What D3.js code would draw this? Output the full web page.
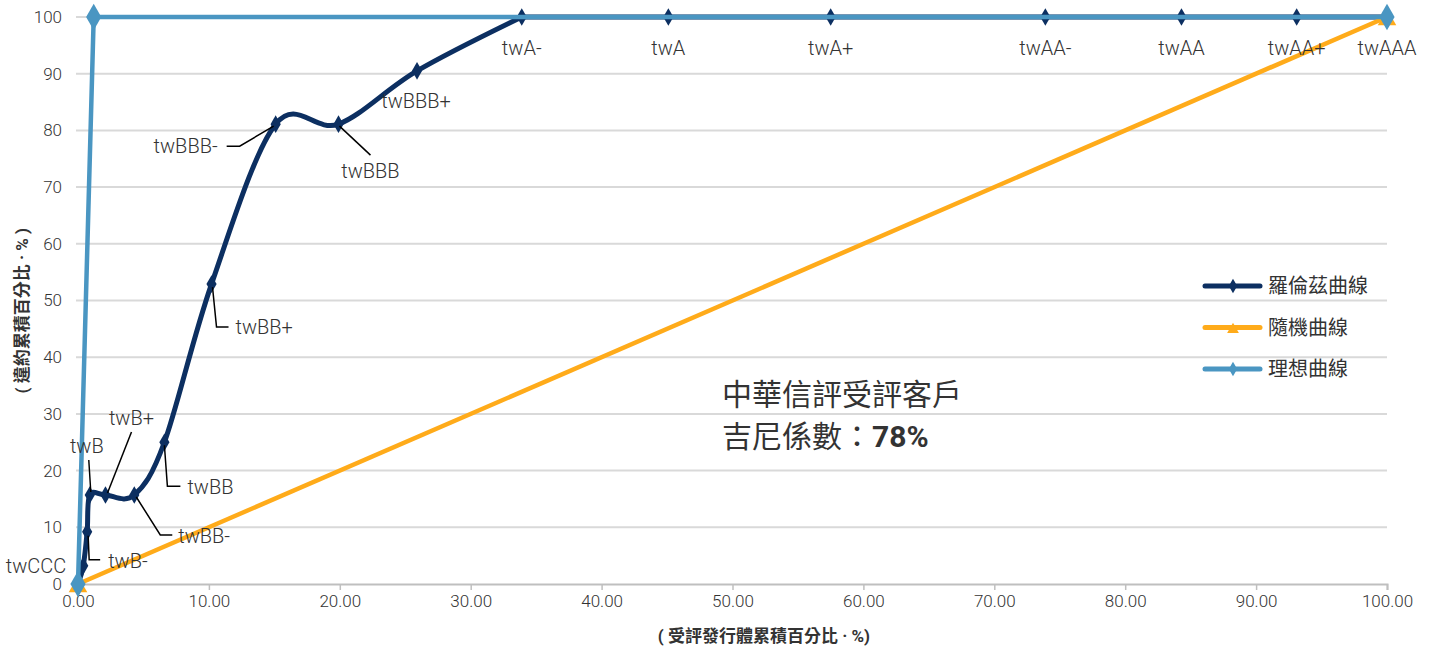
<!DOCTYPE html>
<html>
<head>
<meta charset="utf-8">
<script src="https://cdn.jsdelivr.net/npm/d3@7"></script>
<style>
  body { margin: 0; background: #fff; }
  text { font-family: Roboto, "Noto Sans CJK TC", sans-serif; fill: #333; }
</style>
</head>
<body>
<div id="chart"></div>
<script>
// rating grades along the Lorenz curve
const grades = ["", "twCCC", "twB-", "twB", "twB+", "twBB-", "twBB", "twBB+", "twBBB-", "twBBB", "twBBB+",
  "twA-", "twA", "twA+", "twAA-", "twAA", "twAA+", "twAAA"];
// cumulative % of rated issuers (x)
const cumIssuers = [0, 0.4, 0.7, 0.9, 2.1, 4.3, 6.6, 10.2, 15.1, 19.9, 25.9, 33.9, 45.1, 57.5, 73.9, 84.3, 93.1, 100];
// cumulative % of defaults (y)
const cumDefaults = [0, 3.2, 9.2, 15.7, 15.7, 15.7, 25.0, 52.9, 81.1, 81.1, 90.5, 100, 100, 100, 100, 100, 100, 100];

const randomX = [0, 100];
const randomY = [0, 100];
const idealX = [0, 1.2, 100];
const idealY = [0, 100, 100];

const xTicks = [0, 10, 20, 30, 40, 50, 60, 70, 80, 90, 100];
const yTicks = [0, 10, 20, 30, 40, 50, 60, 70, 80, 90, 100];

const seriesNames = ["羅倫茲曲線", "隨機曲線", "理想曲線"];

// label placement relative to the point (pixels), with leader line points
const labelLayout = {
  "twCCC":  {dx: -17, dy: 7, anchor: "end"},
  "twB-":   {dx: 21, dy: 36, anchor: "start", leader: [[1, 4], [2, 28], [13, 28]]},
  "twB":    {dx: -3, dy: -42, anchor: "middle", leader: [[-1, -35], [1, -3]]},
  "twB+":   {dx: 26, dy: -70, anchor: "middle", leader: [[26, -63], [2, -2]]},
  "twBB-":  {dx: 44, dy: 48, anchor: "start", leader: [[2, 2], [26, 40], [38, 40]]},
  "twBB":   {dx: 23, dy: 52, anchor: "start", leader: [[0, 3], [3, 44], [16, 44]]},
  "twBB+":  {dx: 24, dy: 50, anchor: "start", leader: [[1, 3], [5, 43], [17, 43]]},
  "twBBB-": {dx: -58, dy: 29, anchor: "end", leader: [[-2, 2], [-36, 22], [-49, 22]]},
  "twBBB":  {dx: 32, dy: 54, anchor: "middle", leader: [[1, 2], [32, 31]]},
  "twBBB+": {dx: -1, dy: 37, anchor: "middle"}
};

const colors = {lorenz: "#0c2f61", random: "#ffab1a", ideal: "#4a96c2"};

const margin = {top: 17, right: 43, bottom: 65, left: 78},
    width = 1430 - margin.left - margin.right,
    height = 649 - margin.top - margin.bottom;

const x = d3.scaleLinear().domain([0, 100]).range([0, width]);
const y = d3.scaleLinear().domain([0, 100]).range([height, 0]);

const svg = d3.select("#chart").append("svg")
    .attr("width", 1430)
    .attr("height", 649)
  .append("g")
    .attr("transform", "translate(" + margin.left + "," + margin.top + ")");

// gridlines
svg.append("g")
  .selectAll("line")
  .data(yTicks.slice(1))
  .join("line")
    .attr("x1", -2).attr("x2", width)
    .attr("y1", d => y(d)).attr("y2", d => y(d))
    .attr("stroke", "#d9d9d9").attr("stroke-width", 2);

// x axis
const xAxis = svg.append("g")
  .attr("transform", "translate(0," + height + ")")
  .call(d3.axisBottom(x).tickValues(xTicks).tickFormat(d3.format(".2f")).tickSize(6).tickPadding(5));
xAxis.select(".domain").attr("stroke", "#bfbfbf").attr("stroke-width", 2);
xAxis.selectAll(".tick line").attr("stroke", "#bfbfbf").attr("stroke-width", 1.5);
xAxis.selectAll("text").style("font-size", "17px").style("font-family", "Roboto, sans-serif")
  .style("font-weight", 300).attr("fill", "#404040");

// y axis
const yAxis = svg.append("g")
  .call(d3.axisLeft(y).tickValues(yTicks).tickSize(0).tickPadding(16));
yAxis.select(".domain").remove();
yAxis.selectAll("text").style("font-size", "17px").style("font-family", "Roboto, sans-serif")
  .style("font-weight", 300).attr("fill", "#404040");

// axis titles
svg.append("text")
  .attr("x", x(52.4)).attr("y", height + 58)
  .attr("text-anchor", "middle")
  .style("font-size", "17px").style("font-weight", "bold")
  .text("( 受評發行體累積百分比 · %)");

svg.append("text")
  .attr("transform", "translate(" + (-50) + "," + y(48.2) + ") rotate(-90)")
  .attr("text-anchor", "middle")
  .style("font-size", "17px").style("font-weight", "bold")
  .text("( 違約累積百分比 · % )");

const lorenz = cumIssuers.map((v, i) => ({x: v, y: cumDefaults[i], grade: grades[i]}));
const random = randomX.map((v, i) => ({x: v, y: randomY[i]}));
const ideal = idealX.map((v, i) => ({x: v, y: idealY[i]}));

const smoothLine = d3.line().x(d => x(d.x)).y(d => y(d.y)).curve(d3.curveCardinal.tension(0));
const straightLine = d3.line().x(d => x(d.x)).y(d => y(d.y));

const diamond = s => d3.symbol().type(d3.symbolDiamond).size(s)();
const triangle = s => d3.symbol().type(d3.symbolTriangle).size(s)();

// Lorenz curve: smoothed up to the first 100% point, flat after it
const topIndex = cumDefaults.indexOf(100);
svg.append("path")
  .datum(lorenz.slice(0, topIndex + 1))
  .attr("fill", "none").attr("stroke", colors.lorenz).attr("stroke-width", 5)
  .attr("stroke-linejoin", "round")
  .attr("d", smoothLine);
svg.append("path")
  .datum(lorenz.slice(topIndex))
  .attr("fill", "none").attr("stroke", colors.lorenz).attr("stroke-width", 5)
  .attr("d", straightLine);
svg.append("g").selectAll("path")
  .data(lorenz)
  .join("path")
    .attr("transform", d => "translate(" + x(d.x) + "," + y(d.y) + ")")
    .attr("d", diamond(90))
    .attr("fill", colors.lorenz);

// random curve
svg.append("path")
  .datum(random)
  .attr("fill", "none").attr("stroke", colors.random).attr("stroke-width", 4.5)
  .attr("d", straightLine);
svg.append("g").selectAll("path")
  .data(random)
  .join("path")
    .attr("transform", d => "translate(" + x(d.x) + "," + (y(d.y) + 3) + ")")
    .attr("d", triangle(150))
    .attr("fill", colors.random);

// ideal curve
svg.append("path")
  .datum(ideal)
  .attr("fill", "none").attr("stroke", colors.ideal).attr("stroke-width", 4.5)
  .attr("d", straightLine);
svg.append("g").selectAll("path")
  .data(ideal)
  .join("path")
    .attr("transform", d => "translate(" + x(d.x) + "," + y(d.y) + ")")
    .attr("d", diamond(200))
    .attr("fill", colors.ideal);

// data labels with leader lines
const labels = svg.append("g");
lorenz.filter(d => d.grade).forEach(d => {
  const px = x(d.x), py = y(d.y);
  const lay = labelLayout[d.grade] || {dx: 0, dy: 38, anchor: "middle"};
  if (lay.leader) {
    labels.append("path")
      .datum(lay.leader.map(p => [px + p[0], py + p[1]]))
      .attr("fill", "none").attr("stroke", "#000").attr("stroke-width", 1.5)
      .attr("d", d3.line());
  }
  labels.append("text")
    .attr("x", px + lay.dx).attr("y", py + lay.dy)
    .attr("text-anchor", lay.anchor)
    .style("font-size", "20px").style("font-weight", 300)
    .text(d.grade);
});

// Gini annotation
const note = svg.append("text")
  .attr("x", x(49.2)).attr("y", y(31.6))
  .style("font-size", "30px").attr("fill", "#111");
note.append("tspan").text("中華信評受評客戶");
const note2 = svg.append("text")
  .attr("x", x(49.2)).attr("y", y(24.2))
  .style("font-size", "30px").attr("fill", "#111");
note2.append("tspan").text("吉尼係數：");
note2.append("tspan").style("font-weight", "bold").text("78%");

// legend
const legendColors = [colors.lorenz, colors.random, colors.ideal];
const legendSymbols = [diamond(60), triangle(60), diamond(60)];
const legend = svg.append("g")
  .attr("transform", "translate(" + (1205 - margin.left) + "," + (286 - margin.top) + ")");
seriesNames.forEach((name, i) => {
  const row = legend.append("g").attr("transform", "translate(0," + (i * 41.5) + ")");
  row.append("line")
    .attr("x1", 0).attr("x2", 55)
    .attr("stroke", legendColors[i]).attr("stroke-width", 5).attr("stroke-linecap", "round");
  row.append("path")
    .attr("transform", "translate(28," + (i === 1 ? 2 : 0) + ")")
    .attr("d", legendSymbols[i]).attr("fill", legendColors[i]);
  row.append("text")
    .attr("x", 63).attr("y", 7)
    .style("font-size", "20px")
    .text(name);
});
</script>
</body>
</html>
